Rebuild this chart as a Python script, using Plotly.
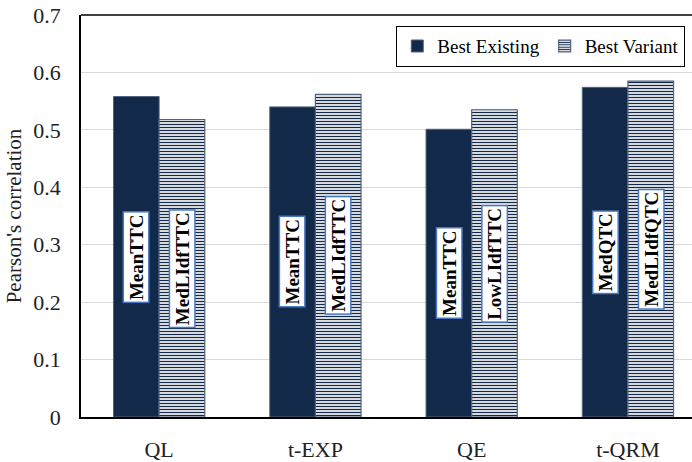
import plotly.graph_objects as go

# Pearson's correlation of the best existing predictor vs. the best variant
categories = ["QL", "t-EXP", "QE", "t-QRM"]
best_existing = [0.558, 0.540, 0.501, 0.574]
best_variant = [0.518, 0.562, 0.535, 0.585]
existing_names = ["MeanTTC", "MeanTTC", "MeanTTC", "MedQTC"]
variant_names = ["MedLIdfTTC", "MedLIdfTTC", "LowLIdfTTC", "MedLIdfQTC"]
y_ticks = [0, 0.1, 0.2, 0.3, 0.4, 0.5, 0.6, 0.7]

NAVY = "#13294a"
EDGE = "#52637f"
SERIF = "Liberation Serif, Times New Roman, serif"
BARGAP = 0.416

fig = go.Figure()
fig.add_trace(go.Bar(
    name="Best Existing", x=categories, y=best_existing,
    marker=dict(color=NAVY, line=dict(color=EDGE, width=1)),
))
fig.add_trace(go.Bar(
    name="Best Variant", x=categories, y=best_variant,
    marker=dict(
        color="white",
        line=dict(color=EDGE, width=1.2),
        pattern=dict(shape="-", fgcolor=NAVY, bgcolor="white",
                     size=3, solidity=0.45, fillmode="replace"),
    ),
))

# rotated name labels centred inside each bar
bar_w = (1 - BARGAP) / 2
for i in range(len(categories)):
    for offset, val, name in ((-bar_w / 2, best_existing[i], existing_names[i]),
                              (bar_w / 2, best_variant[i], variant_names[i])):
        fig.add_annotation(
            x=i + offset, y=val / 2, xref="x", yref="y",
            text=f"<b>{name}</b>", textangle=-90, showarrow=False,
            font=dict(family=SERIF, size=19, color="black"),
            bgcolor="white", bordercolor="#4a78c0", borderwidth=1.5, borderpad=1.5,
        )

# top frame line of the plot area
fig.add_shape(type="line", xref="paper", yref="paper", x0=0, x1=1, y0=1, y1=1,
              line=dict(color="black", width=1.5))

fig.update_layout(
    width=692, height=462,
    margin=dict(l=81, r=0, t=15, b=40),
    paper_bgcolor="white", plot_bgcolor="white",
    barmode="group", bargap=BARGAP, bargroupgap=0,
    font=dict(family=SERIF, size=22, color="#222222"),
    showlegend=True,
    legend=dict(
        orientation="h", x=0.9885, y=0.973, xanchor="right", yanchor="top",
        bgcolor="white", bordercolor="black", borderwidth=1.3,
        font=dict(family=SERIF, size=19, color="black"),
        itemwidth=30, traceorder="normal",
    ),
    xaxis=dict(
        type="category", range=[-0.5, 3.41],
        showline=True, linecolor="black", linewidth=1.5, mirror=False,
        showgrid=False, ticks="", ticklabelstandoff=12,
        tickfont=dict(family=SERIF, size=22, color="#222222"),
    ),
    yaxis=dict(
        range=[0, 0.7], tickvals=y_ticks,
        ticktext=[f"{v:g}" for v in y_ticks],
        showline=True, linecolor="black", linewidth=1.5, mirror=False,
        showgrid=True, gridcolor="#d9d9d9", gridwidth=1,
        zeroline=False, ticks="", ticklabelstandoff=14,
        tickfont=dict(family=SERIF, size=22, color="#222222"),
        title=dict(text="Pearson's correlation", standoff=6,
                   font=dict(family=SERIF, size=21, color="#222222")),
    ),
)

fig.write_html("out.html")
